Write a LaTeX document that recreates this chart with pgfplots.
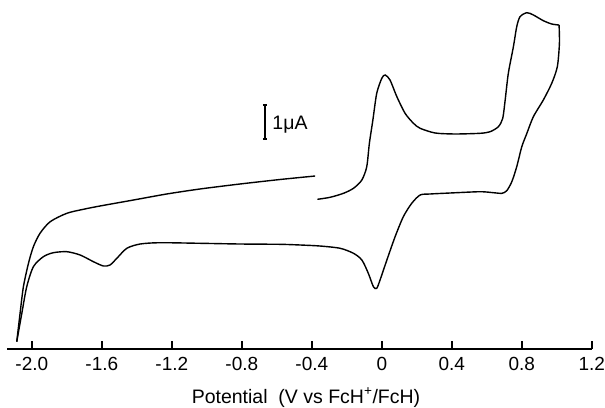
\documentclass[border=0pt]{standalone}
\usepackage{fontspec}
\setmainfont{Liberation Sans}
\usepackage{pgfplots}
\pgfplotsset{compat=1.18}
\begin{document}
\begin{tikzpicture}
\useasboundingbox (0,0) rectangle (605pt,407pt);
\begin{axis}[
  at={(7.3pt,58pt)}, anchor=south west,
  x=175pt, y=34pt,
  xmin=-2.14, xmax=1.2, ymin=0, ymax=10.26,
  axis x line=bottom, axis line style={-, line width=1.7pt},
  hide y axis,
  clip=false,
  xtick={-2.0,-1.6,-1.2,-0.8,-0.4,0,0.4,0.8,1.2},
  xticklabels={-2.0,-1.6,-1.2,-0.8,-0.4,0,0.4,0.8,1.2},
  tick align=inside, major tick length=8pt,
  every tick/.style={black, line width=1.7pt},
  xticklabel style={anchor=base, yshift=-21.7pt, inner sep=0pt, font=\fontsize{19}{19}\selectfont},
]
% forward scan from start to switching potential
\addplot[black, line width=1.4pt, smooth, tension=0.45] coordinates {
(-0.368,4.403) (-0.295,4.462) (-0.219,4.579) (-0.162,4.726) (-0.114,4.971)
(-0.086,5.362) (-0.071,6.050) (-0.051,6.735) (-0.029,7.521) (0.000,7.962)
(0.019,8.059) (0.047,7.912) (0.086,7.421) (0.133,6.932) (0.181,6.638)
(0.219,6.491) (0.305,6.353) (0.419,6.324) (0.562,6.344) (0.619,6.391)
(0.666,6.538) (0.691,6.785) (0.705,7.324) (0.723,8.109) (0.752,8.891)
(0.771,9.479) (0.790,9.774) (0.829,9.891) (0.866,9.824) (0.923,9.656)
(0.971,9.559) (1.013,9.529)
};
% reverse scan
\addplot[black, line width=1.4pt, smooth, tension=0.45] coordinates {
(1.013,9.529) (1.015,8.991) (1.003,8.303) (0.971,7.815) (0.923,7.324)
(0.866,6.832) (0.829,6.344) (0.800,5.950) (0.771,5.362) (0.743,4.921)
(0.714,4.656) (0.686,4.579) (0.638,4.597) (0.562,4.626) (0.390,4.588)
(0.276,4.559) (0.219,4.529) (0.171,4.285) (0.123,3.891) (0.076,3.303)
(0.029,2.618) (-0.010,2.029) (-0.029,1.785) (-0.048,1.832) (-0.077,2.226)
(-0.114,2.618) (-0.162,2.815) (-0.238,2.962) (-0.353,3.029) (-0.467,3.059)
(-0.582,3.079) (-0.810,3.088) (-1.039,3.109) (-1.267,3.126) (-1.381,3.088)
(-1.457,2.962) (-1.514,2.668) (-1.553,2.471) (-1.591,2.441) (-1.648,2.568)
(-1.724,2.765) (-1.800,2.862) (-1.877,2.832) (-1.934,2.715) (-1.991,2.421)
(-2.029,1.832) (-2.057,1.050) (-2.086,0.215)
};
% forward scan back to start
\addplot[black, line width=1.4pt, smooth, tension=0.45] coordinates {
(-2.086,0.215) (-2.067,1.050) (-2.048,1.832) (-2.019,2.521) (-1.991,3.009)
(-1.953,3.403) (-1.895,3.744) (-1.800,3.991) (-1.705,4.109) (-1.610,4.206)
(-1.419,4.382) (-1.229,4.559) (-1.039,4.706) (-0.810,4.853) (-0.582,4.985)
(-0.381,5.088)
};
% scale bar 1 uA
\draw[black, line width=1.4pt] (axis cs:-0.667,6.176) -- (axis cs:-0.667,7.176);
\draw[black, line width=1.4pt] (axis cs:-0.679,6.176) -- (axis cs:-0.655,6.176);
\draw[black, line width=1.4pt] (axis cs:-0.679,7.176) -- (axis cs:-0.655,7.176);
\node[anchor=base west, inner sep=0pt, font=\fontsize{19.5}{19.5}\selectfont] at (axis cs:-0.626,6.46) {1μA};
\end{axis}
\node[anchor=base, inner sep=0pt, font=\fontsize{19.5}{19.5}\selectfont] at (306pt,4pt) {Potential\ \ (V vs FcH\textsuperscript{+}/FcH)};
\end{tikzpicture}
\end{document}
